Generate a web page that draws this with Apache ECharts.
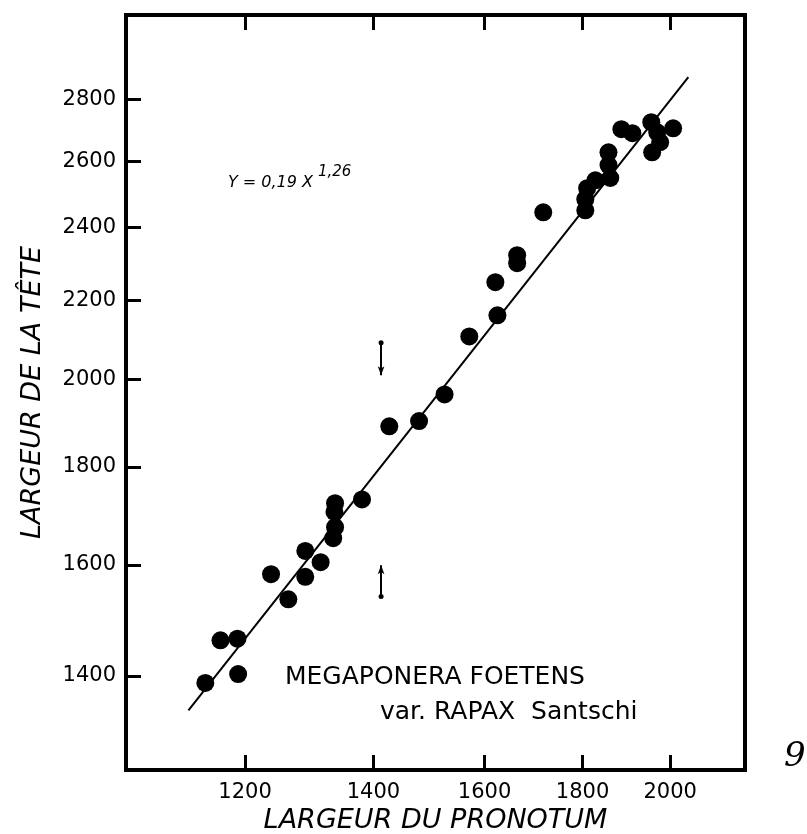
<!DOCTYPE html>
<html>
<head>
<meta charset="utf-8">
<title>Megaponera foetens</title>
<script src="https://cdn.jsdelivr.net/npm/echarts@6/dist/echarts.min.js"></script>
<style>html,body{margin:0;padding:0;background:#fff;}</style>
</head>
<body>
<div id="main" style="width:807px;height:834px;"></div>
<script type="text/javascript">
// largeur du pronotum (x) et largeur de la tete (y)
var pronotum = [1144, 1165, 1189, 1190, 1238, 1264, 1290, 1290, 1314, 1337, 1336, 1337, 1334, 1381,
    1427, 1479, 1525, 1571, 1625, 1621, 1664, 1664, 1717, 1806, 1806, 1810, 1828, 1857, 1857, 1861,
    1886, 1911, 1955, 1969, 2007, 1976, 1957];
var tete = [1388, 1461, 1464, 1403, 1582, 1535, 1577, 1627, 1605, 1723, 1705, 1674, 1652, 1731,
    1890, 1902, 1964, 2106, 2160, 2248, 2322, 2300, 2445, 2451, 2484, 2517, 2541, 2628, 2588, 2548,
    2702, 2689, 2725, 2692, 2705, 2660, 2628];
// droite d'allometrie Y = 0,19 X^1,26 (extremites lues)
var fitX = [1121, 2044];
var fitY = [1343, 2877];
// fleches verticales
var arrowX = [1413, 1413];
var arrowFrom = [2090, 1540];
var arrowTo = [2010, 1599];

var xTicks = [1200, 1400, 1600, 1800, 2000];
var yTicks = [1400, 1600, 1800, 2000, 2200, 2400, 2600, 2800];
var xMin = 1040, xMax = 2188;
var yMin = 1250, yMax = 3100;

var points = pronotum.map(function (x, i) { return [x, tete[i]]; });
var fitLine = fitX.map(function (x, i) { return [x, fitY[i]]; });
var arrows = arrowX.map(function (x, i) {
    return [{coord: [x, arrowFrom[i]]}, {coord: [x, arrowTo[i]]}];
});

var font = 'DejaVu Sans';
var plain = function (v) { return String(Math.round(v)); };

var myChart = echarts.init(document.getElementById('main'));

var option = {
    animation: false,
    backgroundColor: '#fff',
    grid: {
        left: 126, right: 62, top: 15, bottom: 64,
        outerBoundsMode: 'none',
        show: true, borderColor: '#000', borderWidth: 4
    },
    xAxis: [
        {
            type: 'log', min: xMin, max: xMax,
            name: 'LARGEUR DU PRONOTUM',
            nameLocation: 'middle', nameGap: 32,
            nameTextStyle: {fontFamily: font, fontStyle: 'italic', fontSize: 27, color: '#000'},
            axisLine: {show: false},
            splitLine: {show: false},
            minorTick: {show: false},
            axisTick: {show: true, inside: true, length: 15, customValues: xTicks,
                lineStyle: {color: '#000', width: 3}},
            axisLabel: {fontFamily: font, fontSize: 21, color: '#000', margin: 12,
                customValues: xTicks, formatter: plain}
        },
        {
            type: 'log', min: xMin, max: xMax, position: 'top',
            axisLine: {show: false},
            splitLine: {show: false},
            axisTick: {show: true, inside: true, length: 15, customValues: xTicks,
                lineStyle: {color: '#000', width: 3}},
            axisLabel: {show: false}
        }
    ],
    yAxis: {
        type: 'log', min: yMin, max: yMax,
        name: 'LARGEUR DE LA TÊTE',
        nameLocation: 'middle', nameGap: 80,
        nameTextStyle: {fontFamily: font, fontStyle: 'italic', fontSize: 27, color: '#000'},
        axisLine: {show: false},
        splitLine: {show: false},
        axisTick: {show: true, inside: true, length: 15, customValues: yTicks,
            lineStyle: {color: '#000', width: 3}},
        axisLabel: {fontFamily: font, fontSize: 21, color: '#000', margin: 10,
            customValues: yTicks, formatter: plain}
    },
    series: [
        {
            type: 'line',
            data: fitLine,
            showSymbol: false,
            lineStyle: {color: '#000', width: 2},
            markLine: {
                silent: true,
                symbol: ['circle', 'arrow'],
                symbolSize: [5, 9],
                label: {show: false},
                lineStyle: {color: '#000', width: 2, type: 'solid'},
                data: arrows
            }
        },
        {
            type: 'scatter',
            data: points,
            symbolSize: 18,
            itemStyle: {color: '#000', opacity: 1}
        }
    ],
    graphic: [
        {type: 'text', left: 228, top: 175,
         style: {text: 'Y = 0,19 X', fontFamily: font, fontStyle: 'italic', fontSize: 16, fill: '#000'}},
        {type: 'text', left: 318, top: 165,
         style: {text: '1,26', fontFamily: font, fontStyle: 'italic', fontSize: 15, fill: '#000'}},
        {type: 'text', left: 285, top: 665,
         style: {text: 'MEGAPONERA FOETENS', fontFamily: font, fontSize: 25, fill: '#000'}},
        {type: 'text', left: 380, top: 700,
         style: {text: 'var. RAPAX  Santschi', fontFamily: font, fontSize: 25, fill: '#000'}},
        {type: 'text', left: 784, top: 740,
         style: {text: '9', fontFamily: 'DejaVu Serif', fontStyle: 'italic', fontSize: 34, fill: '#000'}}
    ]
};

myChart.setOption(option);
</script>
</body>
</html>
